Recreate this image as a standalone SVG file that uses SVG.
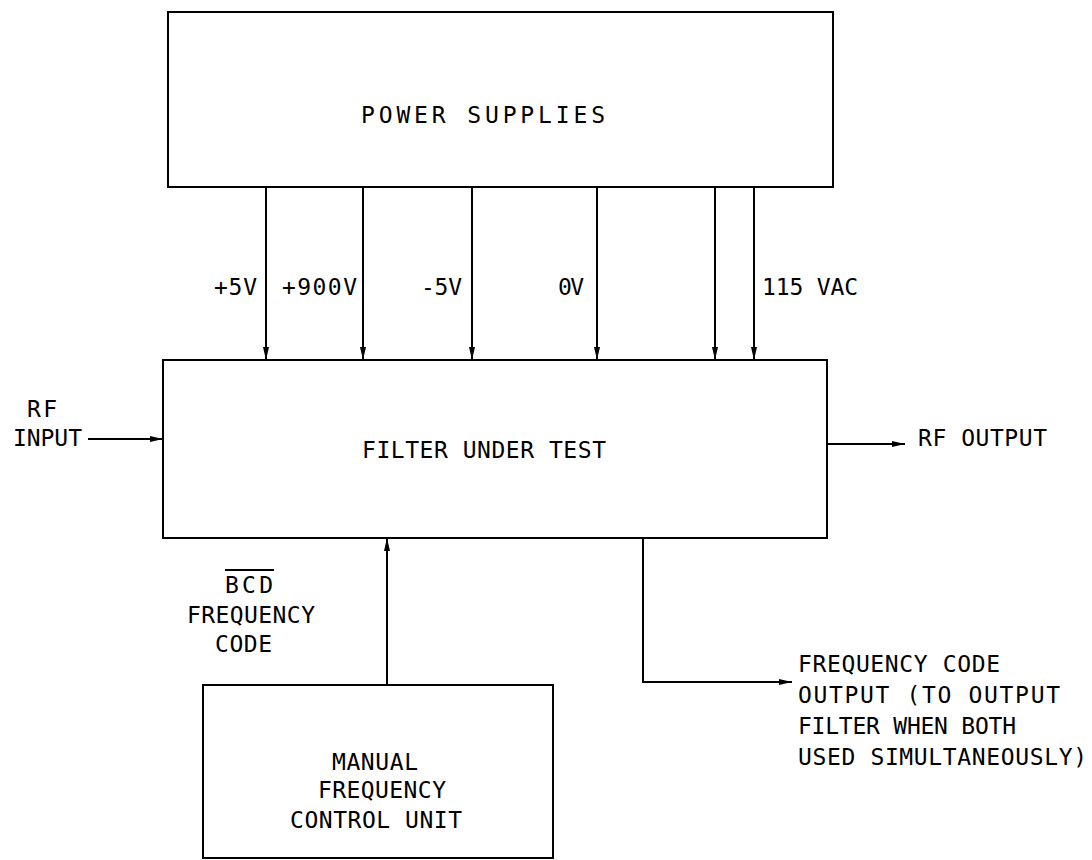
<svg xmlns="http://www.w3.org/2000/svg" width="1092" height="860" viewBox="0 0 1092 860">
<style>
.box{fill:none;stroke:#000;stroke-width:2}
.ln{fill:none;stroke:#000;stroke-width:2}
text{font-family:"DejaVu Sans Mono","Liberation Mono",monospace;font-size:23px;fill:#000}
</style>
<defs>
<marker id="ah" markerUnits="userSpaceOnUse" markerWidth="14" markerHeight="8" refX="13" refY="4" orient="auto">
<path d="M0,1 L13,4 L0,7 Z" fill="#000"/>
</marker>
</defs>
<rect width="1092" height="860" fill="#fff"/>
<g id="power-supplies">
<rect class="box" x="168" y="12" width="665" height="175"/>
<text x="361" y="123" textLength="244" lengthAdjust="spacing">POWER SUPPLIES</text>
</g>
<g id="filter-under-test">
<rect class="box" x="163" y="360" width="664" height="178"/>
<text x="362" y="458" textLength="244" lengthAdjust="spacing">FILTER UNDER TEST</text>
</g>
<g id="manual-frequency-control-unit">
<rect class="box" x="203" y="685" width="350" height="173"/>
<text x="332" y="770" textLength="86" lengthAdjust="spacing">MANUAL</text>
<text x="318" y="798" textLength="128" lengthAdjust="spacing">FREQUENCY</text>
<text x="290" y="828" textLength="172" lengthAdjust="spacing">CONTROL UNIT</text>
</g>
<g id="connectors">
<line class="ln" x1="266" y1="187" x2="266" y2="360" marker-end="url(#ah)"/>
<line class="ln" x1="363" y1="187" x2="363" y2="360" marker-end="url(#ah)"/>
<line class="ln" x1="472" y1="187" x2="472" y2="360" marker-end="url(#ah)"/>
<line class="ln" x1="597" y1="187" x2="597" y2="360" marker-end="url(#ah)"/>
<line class="ln" x1="715" y1="187" x2="715" y2="360" marker-end="url(#ah)"/>
<line class="ln" x1="754" y1="187" x2="754" y2="360" marker-end="url(#ah)"/>
<line class="ln" x1="88" y1="439" x2="163" y2="439" marker-end="url(#ah)"/>
<line class="ln" x1="827" y1="444" x2="905" y2="444" marker-end="url(#ah)"/>
<line class="ln" x1="387" y1="685" x2="387" y2="538" marker-end="url(#ah)"/>
<polyline class="ln" points="643,538 643,682 792,682" marker-end="url(#ah)"/>
</g>
<g id="labels">
<text x="214" y="295" textLength="43" lengthAdjust="spacing">+5V</text>
<text x="282" y="295" textLength="75" lengthAdjust="spacing">+900V</text>
<text x="421" y="295" textLength="41" lengthAdjust="spacing">-5V</text>
<text x="558" y="295" textLength="26" lengthAdjust="spacing">0V</text>
<text x="762" y="295" textLength="96" lengthAdjust="spacing">115 VAC</text>
<text x="27" y="417" textLength="30" lengthAdjust="spacing">RF</text>
<text x="13" y="446" textLength="69" lengthAdjust="spacing">INPUT</text>
<text x="918" y="446" textLength="129" lengthAdjust="spacing">RF OUTPUT</text>
<text x="225" y="593" textLength="48" lengthAdjust="spacing">BCD</text>
<line class="ln" x1="225" y1="570" x2="274" y2="570" stroke-width="1.5"/>
<text x="187" y="623" textLength="128" lengthAdjust="spacing">FREQUENCY</text>
<text x="215" y="652" textLength="57" lengthAdjust="spacing">CODE</text>
<text x="798" y="672" textLength="202" lengthAdjust="spacing">FREQUENCY CODE</text>
<text x="798" y="703" textLength="262" lengthAdjust="spacing">OUTPUT (TO OUTPUT</text>
<text x="798" y="734" textLength="218" lengthAdjust="spacing">FILTER WHEN BOTH</text>
<text x="798" y="765" textLength="289" lengthAdjust="spacing">USED SIMULTANEOUSLY)</text>
</g>
</svg>
